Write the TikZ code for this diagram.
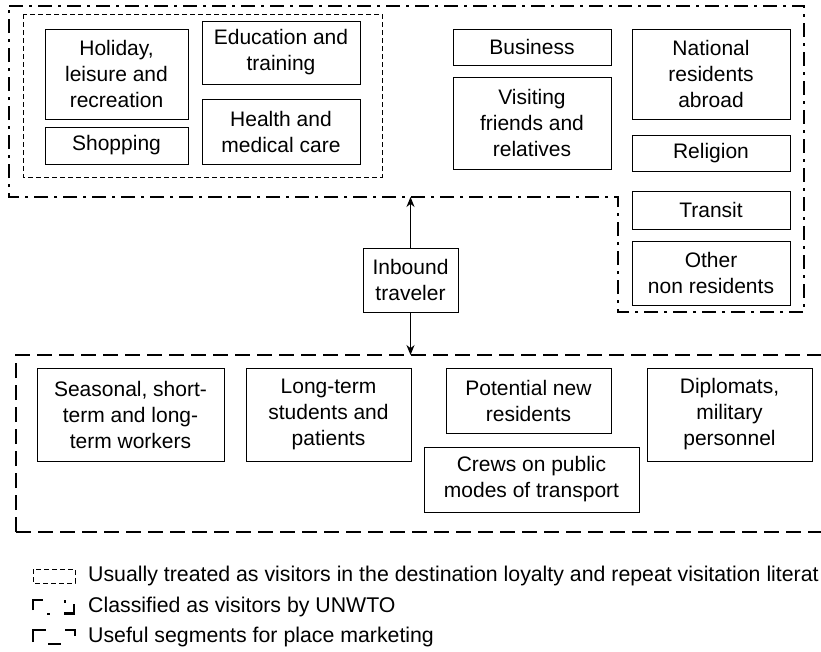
\documentclass[tikz,border=0pt]{standalone}
\usepackage{fontspec}
\setmainfont{Liberation Sans}
\usetikzlibrary{arrows.meta}
\tikzset{
  box/.style={draw, line width=0.9pt, inner sep=0pt, align=center, font=\fontsize{21}{26}\selectfont},
  visdash/.style={line width=0.9pt, dash pattern=on 5pt off 3pt},
  unwto/.style={line width=2.4pt, dash pattern=on 14pt off 6pt on 3pt off 6pt},
  mkt/.style={line width=2.4pt, dash pattern=on 15pt off 7pt},
  conn/.style={line width=0.9pt, -{Stealth[length=10pt,width=8pt]}},
  legend/.style={anchor=west, inner sep=0pt, font=\fontsize{21.3}{25}\selectfont},
  icon/.style={line width=2.4pt}
}
\newcommand{\mybox}[6]{\node[box,minimum width={#4pt-#2pt},minimum height={#5pt-#3pt}] (#1) at ({(#2+#4)/2},{(#3+#5)/2}) {#6};}
\begin{document}
\begin{tikzpicture}[x=1pt,y=-1pt]
\useasboundingbox (0,0) rectangle (821,651);
\clip (0,0) rectangle (821,651);
% UNWTO region
\draw[unwto] (9,6) -- (804,6) -- (804,312) -- (618,312) -- (618,197) -- (9,197) -- cycle;
% usually treated as visitors
\draw[visdash] (23,14) rectangle (382,177);
% place marketing segments
\draw[mkt] (16,532) -- (16,355) -- (850,355);
\draw[mkt] (16,532) -- (850,532);
% boxes
\mybox{holiday}{45}{29}{188}{119}{Holiday,\\leisure and\\recreation}
\mybox{shopping}{45}{127}{188}{164}{Shopping}
\mybox{education}{202}{21}{360}{84}{Education and\\training}
\mybox{health}{202}{99}{360}{164}{Health and\\medical care}
\mybox{business}{453}{29}{611}{65}{Business}
\mybox{visiting}{453}{77}{611}{169}{Visiting\\friends and\\relatives}
\mybox{national}{632}{29}{790}{119}{National\\residents\\abroad}
\mybox{religion}{632}{135}{790}{171}{Religion}
\mybox{transit}{632}{191}{790}{229}{Transit}
\mybox{other}{632}{241}{790}{305}{Other\\non residents}
\mybox{inbound}{363}{248}{458}{312}{Inbound\\traveler}
\mybox{seasonal}{37}{368}{224}{461}{Seasonal, short-\\term and long-\\term workers}
\mybox{longterm}{246}{368}{411}{461}{Long-term\\students and\\patients}
\mybox{potential}{446}{368}{611}{433}{Potential new\\residents}
\mybox{crews}{424}{447}{639}{512}{Crews on public\\modes of transport}
\mybox{diplomats}{647}{368}{812}{461}{Diplomats,\\military\\personnel}
% connectors
\coordinate (uptip) at (inbound.north |- 0,197);
\coordinate (downtip) at (inbound.south |- 0,355);
\draw[conn] (inbound.north) -- (uptip);
\draw[conn] (inbound.south) -- (downtip);
% legend icons
\draw[visdash] (33,569) rectangle (75,583);
\draw[icon] (33,610) -- (33,600) -- (43,600);
\fill (47,612.5) rectangle (50,615);
\draw[line width=2.4pt] (65,600) -- (65,603);
\draw[icon] (64,613.5) -- (74,613.5) -- (74,604);
\draw[icon] (33,642) -- (33,630) -- (46,630);
\draw[icon] (65,630) -- (75,630) -- (75,636);
\draw[icon] (48,644) -- (61,644);
% legend texts
\node[legend] (leg1) at (88,576) {Usually treated as visitors in the destination loyalty and repeat visitation literat};
\node[legend] (leg2) at (88,607) {Classified as visitors by UNWTO};
\node[legend] (leg3) at (88,637) {Useful segments for place marketing};
\end{tikzpicture}
\end{document}
